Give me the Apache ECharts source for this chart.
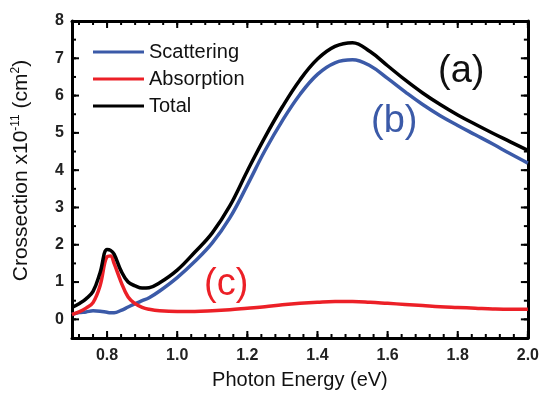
<!DOCTYPE html>
<html>
<head>
<meta charset="utf-8">
<script src="https://cdn.jsdelivr.net/npm/echarts@6.0.0/dist/echarts.min.js"></script>
<style>
  html, body { margin: 0; padding: 0; background: #fff; }
  #chart { width: 542px; height: 395px; }
</style>
</head>
<body>
<div id="chart"></div>
<script>
// photon energy (eV)
const energy = [0.70, 0.72, 0.74, 0.76, 0.78, 0.80, 0.81, 0.82, 0.84, 0.86, 0.88, 0.90, 0.92, 0.95,
  1.00, 1.05, 1.10, 1.15, 1.20, 1.25, 1.30, 1.35, 1.40, 1.45, 1.50, 1.55, 1.60, 1.65, 1.70, 1.75,
  1.80, 1.85, 1.90, 1.95, 2.00];
// crossection x1e-11 cm2
const scattering = [0.13, 0.18, 0.20, 0.23, 0.22, 0.19, 0.18, 0.18, 0.24, 0.33, 0.42, 0.50, 0.58, 0.76,
  1.12, 1.55, 2.05, 2.72, 3.60, 4.52, 5.33, 6.03, 6.57, 6.88, 6.96, 6.80, 6.46, 6.10, 5.76, 5.46,
  5.20, 4.95, 4.70, 4.44, 4.19];
const absorption = [0.13, 0.20, 0.30, 0.45, 0.90, 1.68, 1.70, 1.50, 1.00, 0.60, 0.42, 0.32, 0.27, 0.23,
  0.21, 0.21, 0.23, 0.26, 0.30, 0.34, 0.39, 0.43, 0.46, 0.48, 0.48, 0.46, 0.43, 0.40, 0.37, 0.34,
  0.32, 0.30, 0.28, 0.27, 0.27];
const total = [0.32, 0.42, 0.55, 0.75, 1.25, 1.87, 1.85, 1.75, 1.30, 1.00, 0.90, 0.84, 0.85, 0.98,
  1.32, 1.80, 2.32, 3.04, 3.98, 4.88, 5.70, 6.42, 6.98, 7.32, 7.42, 7.18, 6.80, 6.42, 6.07, 5.76,
  5.48, 5.23, 4.99, 4.76, 4.53];

const xMajor = [0.8, 1.0, 1.2, 1.4, 1.6, 1.8, 2.0];
const yMajor = [0, 1, 2, 3, 4, 5, 6, 7, 8];

// minor ticks: every 0.04 eV on x, every 0.5 on y
const xMinor = [];
for (let k = 0; k <= 32; k++) xMinor.push(+(0.72 + 0.04 * k).toFixed(2));
const yMinor = [];
for (let k = 0; k <= 17; k++) yMinor.push(-0.5 + 0.5 * k);

const X_MIN = 0.7, X_MAX = 2.0, Y_MIN = -0.5, Y_MAX = 8;

const chart = echarts.init(document.getElementById('chart'));

const font = 'Liberation Sans, Arial, sans-serif';
const frame = { show: true, onZero: false, lineStyle: { color: '#000', width: 3 } };

// inward tick marks drawn as thin rect symbols sitting on the frame
function ticks(values, side, len) {
    const horiz = side === 'left' || side === 'right';
    const data = values.map(v => {
        if (side === 'bottom') return [v, Y_MIN];
        if (side === 'top') return [v, Y_MAX];
        if (side === 'left') return [X_MIN, v];
        return [X_MAX, v];
    });
    const off = { bottom: [0, -len / 2], top: [0, len / 2], left: [len / 2, 0], right: [-len / 2, 0] }[side];
    return {
        type: 'scatter',
        silent: true,
        clip: false,
        z: 5,
        symbol: 'rect',
        symbolSize: horiz ? [len, 2] : [2, len],
        symbolOffset: off,
        itemStyle: { color: '#000', opacity: 1 },
        data: data
    };
}

const option = {
    animation: false,
    grid: { left: 72, right: 12, top: 21, bottom: 54 },
    legend: {
        orient: 'vertical',
        left: 93,
        top: 42,
        padding: 0,
        icon: 'rect',
        itemWidth: 51,
        itemHeight: 3,
        itemGap: 7,
        textStyle: { fontFamily: font, fontSize: 20, color: '#111' },
        data: ['Scattering', 'Absorption', 'Total']
    },
    xAxis: [
        {
            type: 'value', min: X_MIN, max: X_MAX, position: 'bottom',
            splitLine: { show: false }, axisTick: { show: false },
            axisLine: frame,
            axisLabel: {
                customValues: xMajor, margin: 10, color: '#222',
                fontFamily: font, fontSize: 16, fontWeight: 'bold',
                formatter: v => v.toFixed(1)
            },
            name: 'Photon Energy (eV)',
            nameLocation: 'middle',
            nameGap: 32,
            nameTextStyle: { fontFamily: font, fontSize: 20, color: '#111' }
        },
        {
            type: 'value', min: X_MIN, max: X_MAX, position: 'top',
            splitLine: { show: false }, axisTick: { show: false }, axisLabel: { show: false },
            axisLine: frame
        }
    ],
    yAxis: [
        {
            type: 'value', min: Y_MIN, max: Y_MAX, position: 'left',
            splitLine: { show: false }, axisTick: { show: false },
            axisLine: frame,
            axisLabel: {
                customValues: yMajor, margin: 8, color: '#222',
                fontFamily: font, fontSize: 16, fontWeight: 'bold'
            },
            name: '{t|Crossection x10}{s|-11}{t| (cm}{s|2}{t|)}',
            nameLocation: 'middle',
            nameGap: 40,
            nameTextStyle: {
                padding: [0, 0, 0, 18],
                rich: {
                    t: { fontFamily: font, fontSize: 21, color: '#111', lineHeight: 24, verticalAlign: 'bottom' },
                    s: { fontFamily: font, fontSize: 12, color: '#111', lineHeight: 24, verticalAlign: 'bottom', padding: [0, 0, 10, 0] }
                }
            }
        },
        {
            type: 'value', min: Y_MIN, max: Y_MAX, position: 'right',
            splitLine: { show: false }, axisTick: { show: false }, axisLabel: { show: false },
            axisLine: frame
        }
    ],
    series: [
        {
            name: 'Scattering', type: 'line', symbol: 'none', smooth: 0.4,
            lineStyle: { color: '#3b5aa8', width: 3.5 }, itemStyle: { color: '#3b5aa8' },
            data: energy.map((e, i) => [e, scattering[i]])
        },
        {
            name: 'Absorption', type: 'line', symbol: 'none', smooth: 0.4,
            lineStyle: { color: '#ec2027', width: 3.5 }, itemStyle: { color: '#ec2027' },
            data: energy.map((e, i) => [e, absorption[i]])
        },
        {
            name: 'Total', type: 'line', symbol: 'none', smooth: 0.4,
            lineStyle: { color: '#000', width: 3.5 }, itemStyle: { color: '#000' },
            data: energy.map((e, i) => [e, total[i]])
        },
        ticks(xMajor, 'bottom', 7), ticks(xMinor, 'bottom', 4),
        ticks(xMajor, 'top', 7), ticks(xMinor, 'top', 4),
        ticks(yMajor, 'left', 7), ticks(yMinor, 'left', 4),
        ticks(yMajor, 'right', 7), ticks(yMinor, 'right', 4)
    ],
    graphic: [
        { type: 'text', left: 438, top: 53, style: { text: '(a)', font: '38px ' + font, fill: '#111' } },
        { type: 'text', left: 371, top: 103, style: { text: '(b)', font: '38px ' + font, fill: '#3b5aa8' } },
        { type: 'text', left: 204, top: 266, style: { text: '(c)', font: '38px ' + font, fill: '#ec2027' } }
    ]
};

chart.setOption(option);
</script>
</body>
</html>
